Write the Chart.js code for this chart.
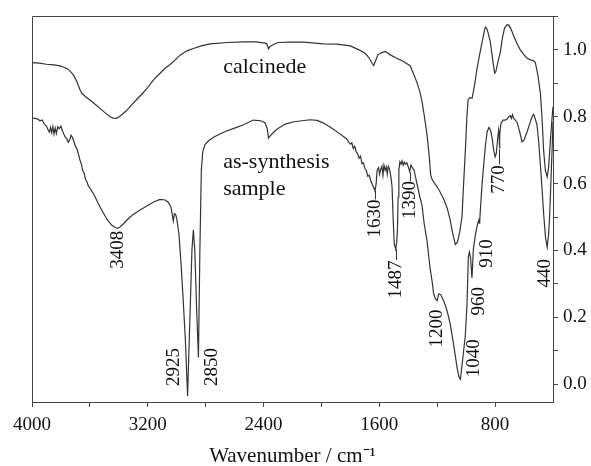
<!DOCTYPE html>
<html>
<head>
<meta charset="utf-8">
<script src="https://cdn.jsdelivr.net/npm/chart.js@4.4.0/dist/chart.umd.min.js"></script>
<style>
  html, body { margin: 0; padding: 0; background: #ffffff; }
  #wrap { width: 591px; height: 466px; }
</style>
</head>
<body>
<div id="wrap"><canvas id="ir" width="591" height="466"></canvas></div>
<script>
// FT-IR spectra: calcined material (upper trace) and as-synthesised sample (lower trace)

const calcinedWavenumber = [
  4000, 3950, 3900, 3850, 3806, 3780, 3760, 3740, 3714, 3690, 3670, 3656, 3630, 3599, 3560, 3530,
  3490, 3460, 3440, 3420, 3400, 3380, 3350, 3322, 3280, 3240, 3207, 3160, 3115, 3080, 3046, 3010,
  2977, 2930, 2885, 2830, 2769, 2650, 2539, 2450, 2390, 2377, 2366, 2355, 2342, 2300, 2216, 2124,
  1986, 1893, 1801, 1755, 1709, 1686, 1665, 1650, 1639, 1628, 1610, 1587, 1559, 1524, 1480, 1432,
  1386, 1363, 1340, 1320, 1305, 1290, 1270, 1255, 1245, 1235, 1220, 1200, 1180, 1156, 1130, 1110,
  1095, 1075, 1060, 1045, 1029, 1018, 1006, 995, 987, 975, 959, 940, 925, 905, 890, 875,
  867, 858, 848, 833, 815, 803, 795, 780, 764, 750, 735, 717, 705, 690, 672, 650,
  626, 600, 579, 555, 535, 522, 505, 487, 475, 465, 453, 440, 430, 418, 406, 400
];
const calcinedValue = [
  0.962, 0.960, 0.957, 0.955, 0.952, 0.948, 0.944, 0.938, 0.925, 0.905, 0.882, 0.870, 0.860, 0.850, 0.836, 0.825,
  0.810, 0.800, 0.796, 0.795, 0.799, 0.806, 0.817, 0.830, 0.850, 0.868, 0.884, 0.910, 0.930, 0.945, 0.956, 0.970,
  0.984, 0.997, 1.004, 1.012, 1.018, 1.022, 1.024, 1.024, 1.020, 1.018, 1.003, 1.010, 1.014, 1.022, 1.023, 1.023,
  1.018, 1.017, 1.012, 1.003, 0.993, 0.984, 0.972, 0.960, 0.953, 0.965, 0.985, 0.991, 0.995, 0.985, 0.975, 0.965,
  0.952, 0.928, 0.902, 0.875, 0.845, 0.805, 0.745, 0.680, 0.625, 0.612, 0.602, 0.590, 0.575, 0.555, 0.525, 0.490,
  0.455, 0.418, 0.425, 0.455, 0.500, 0.597, 0.696, 0.800, 0.850, 0.857, 0.855, 0.900, 0.944, 0.990, 1.023, 1.055,
  1.068, 1.064, 1.050, 1.023, 0.965, 0.930, 0.935, 0.965, 0.993, 1.035, 1.065, 1.075, 1.074, 1.062, 1.042, 1.020,
  1.000, 0.985, 0.975, 0.970, 0.967, 0.962, 0.925, 0.870, 0.790, 0.700, 0.640, 0.620, 0.650, 0.730, 0.800, 0.830
];

const synthWavenumber = [
  4000, 3980, 3960, 3945, 3930, 3915, 3900, 3890, 3880, 3872, 3864, 3856, 3848, 3840, 3832, 3822,
  3812, 3800, 3790, 3780, 3770, 3760, 3750, 3740, 3730, 3720, 3710, 3700, 3690, 3680, 3670, 3660,
  3650, 3640, 3630, 3620, 3610, 3600, 3585, 3570, 3553, 3530, 3504, 3480, 3450, 3430, 3408, 3390,
  3368, 3330, 3300, 3250, 3207, 3160, 3115, 3080, 3060, 3040, 3030, 3024, 3016, 3008, 3000, 2985,
  2970, 2955, 2940, 2925, 2910, 2895, 2885, 2875, 2862, 2850, 2840, 2830, 2820, 2805, 2780, 2740,
  2665, 2600, 2539, 2470, 2420, 2390, 2375, 2366, 2355, 2342, 2320, 2300, 2250, 2190, 2078, 2030,
  1986, 1930, 1870, 1830, 1800, 1790, 1780, 1770, 1760, 1750, 1740, 1730, 1720, 1710, 1700, 1690,
  1680, 1670, 1660, 1650, 1640, 1630, 1622, 1615, 1605, 1598, 1590, 1582, 1575, 1568, 1560, 1552,
  1545, 1538, 1530, 1520, 1512, 1505, 1497, 1487, 1480, 1475, 1470, 1465, 1458, 1450, 1443, 1435,
  1428, 1420, 1410, 1400, 1390, 1382, 1375, 1360, 1340, 1320, 1305, 1290, 1271, 1250, 1236, 1225,
  1213, 1200, 1190, 1175, 1156, 1132, 1110, 1087, 1063, 1050, 1040, 1029, 1015, 1006, 994, 985,
  978, 970, 960, 950, 935, 920, 913, 910, 906, 902, 890, 879, 867, 855, 842, 830,
  820, 810, 800, 792, 782, 776, 772, 770, 767, 760, 745, 730, 717, 705, 695, 688,
  680, 672, 660, 648, 630, 614, 600, 579, 560, 545, 533, 520, 510, 498, 487, 475,
  464, 452, 440, 430, 423, 415, 406, 400
];
const synthValue = [
  0.797, 0.795, 0.793, 0.788, 0.790, 0.778, 0.772, 0.762, 0.754, 0.768, 0.752, 0.770, 0.748, 0.766, 0.750, 0.770,
  0.764, 0.772, 0.758, 0.748, 0.738, 0.735, 0.724, 0.730, 0.745, 0.738, 0.725, 0.712, 0.704, 0.690, 0.672, 0.660,
  0.640, 0.632, 0.612, 0.605, 0.592, 0.587, 0.576, 0.566, 0.550, 0.530, 0.510, 0.492, 0.476, 0.470, 0.466, 0.471,
  0.480, 0.497, 0.508, 0.522, 0.533, 0.545, 0.553, 0.551, 0.545, 0.530, 0.505, 0.488, 0.510, 0.508, 0.496, 0.450,
  0.360, 0.250, 0.130, -0.035, 0.180, 0.400, 0.462, 0.400, 0.220, 0.080, 0.400, 0.640, 0.695, 0.717, 0.728, 0.740,
  0.756, 0.766, 0.776, 0.790, 0.788, 0.782, 0.765, 0.736, 0.742, 0.748, 0.758, 0.765, 0.778, 0.785, 0.791, 0.789,
  0.781, 0.766, 0.748, 0.735, 0.718, 0.722, 0.705, 0.712, 0.695, 0.690, 0.676, 0.682, 0.660, 0.662, 0.645, 0.640,
  0.622, 0.625, 0.610, 0.598, 0.590, 0.578, 0.600, 0.640, 0.648, 0.628, 0.643, 0.652, 0.625, 0.655, 0.640, 0.650,
  0.628, 0.652, 0.645, 0.620, 0.590, 0.500, 0.420, 0.405, 0.425, 0.460, 0.560, 0.640, 0.665, 0.658, 0.668, 0.655,
  0.664, 0.658, 0.662, 0.650, 0.636, 0.655, 0.650, 0.640, 0.600, 0.560, 0.535, 0.480, 0.430, 0.350, 0.310, 0.272,
  0.255, 0.250, 0.270, 0.268, 0.250, 0.220, 0.180, 0.120, 0.050, 0.022, 0.015, 0.055, 0.110, 0.145, 0.240, 0.380,
  0.395, 0.380, 0.318, 0.405, 0.450, 0.482, 0.490, 0.482, 0.492, 0.520, 0.600, 0.655, 0.714, 0.755, 0.768, 0.758,
  0.734, 0.700, 0.680, 0.690, 0.735, 0.760, 0.745, 0.705, 0.745, 0.780, 0.790, 0.790, 0.793, 0.800, 0.803, 0.795,
  0.806, 0.795, 0.790, 0.783, 0.755, 0.725, 0.730, 0.755, 0.780, 0.800, 0.807, 0.790, 0.774, 0.720, 0.655, 0.580,
  0.506, 0.440, 0.410, 0.450, 0.506, 0.600, 0.704, 0.785
];

// axis ticks
const xTickValues = [4000, 3600, 3200, 2800, 2400, 2000, 1600, 1200, 800];
const xTickLabels = [4000, 3200, 2400, 1600, 800];
const yTickValues = [0, 0.1, 0.2, 0.3, 0.4, 0.5, 0.6, 0.7, 0.8, 0.9, 1.0, 1.1];
const yTickLabels = [0, 0.2, 0.4, 0.6, 0.8, 1.0];

// band assignments written beside the lower trace
const bandLabels = ['3408', '2925', '2850', '1630', '1487', '1390', '1200', '1040', '960', '910', '770', '440'];

const SERIF = "'Liberation Serif', 'Times New Roman', Times, serif";
const INK = '#111111';

// where each band label sits (centre of the vertical text, in wavenumber / value units)
const bandLabelAt = [
  [3404, 0.402], [3019, 0.052], [2754, 0.052], [1630, 0.496], [1487, 0.313], [1390, 0.551],
  [1204, 0.167], [944, 0.078], [911, 0.248], [858, 0.391], [770, 0.612], [455, 0.332]
];
// short leader strokes from a band to its label: [wavenumber, from, to]
const leaderLines = [
  [1630, 0.578, 0.553], [1487, 0.405, 0.372], [1390, 0.634, 0.607], [770, 0.703, 0.657]
];
// trace names: [text, wavenumber of left edge, value of text middle]
const traceNames = [
  ['calcinede', 2679, 0.949],
  ['as-synthesis', 2679, 0.664],
  ['sample', 2679, 0.583]
];

function toPoints(xs, ys) {
  return xs.map((x, i) => ({ x: x, y: ys[i] }));
}

const annotate = {
  id: 'annotate',
  afterDatasetsDraw(chart) {
    const ctx = chart.ctx;
    const xs = chart.scales.x, ys = chart.scales.y;
    const a = chart.chartArea;
    ctx.save();
    // frame on the two sides that carry no axis
    ctx.strokeStyle = '#444';
    ctx.lineWidth = 1;
    ctx.beginPath();
    ctx.moveTo(Math.round(a.left) + 0.5, Math.round(a.bottom) + 0.5);
    ctx.lineTo(Math.round(a.left) + 0.5, Math.round(a.top) + 0.5);
    ctx.lineTo(Math.round(a.right) + 0.5, Math.round(a.top) + 0.5);
    ctx.stroke();

    ctx.fillStyle = INK;
    ctx.strokeStyle = '#333';
    // band labels, rotated to read upwards
    ctx.font = '19px ' + SERIF;
    bandLabels.forEach((t, i) => {
      const px = xs.getPixelForValue(bandLabelAt[i][0]);
      const py = ys.getPixelForValue(bandLabelAt[i][1]);
      ctx.save();
      ctx.translate(px, py);
      ctx.rotate(-Math.PI / 2);
      ctx.textAlign = 'center';
      ctx.textBaseline = 'middle';
      ctx.fillText(t, 0, 0);
      ctx.restore();
    });
    leaderLines.forEach(l => {
      const px = Math.round(xs.getPixelForValue(l[0])) + 0.5;
      ctx.beginPath();
      ctx.moveTo(px, ys.getPixelForValue(l[1]));
      ctx.lineTo(px, ys.getPixelForValue(l[2]));
      ctx.stroke();
    });
    // trace names
    ctx.font = '22px ' + SERIF;
    ctx.textAlign = 'left';
    ctx.textBaseline = 'middle';
    traceNames.forEach(n => {
      ctx.fillText(n[0], xs.getPixelForValue(n[1]), ys.getPixelForValue(n[2]));
    });
    ctx.restore();
  }
};

new Chart(document.getElementById('ir'), {
  type: 'line',
  data: {
    datasets: [
      {
        label: 'calcinede',
        data: toPoints(calcinedWavenumber, calcinedValue),
        borderColor: '#333333',
        borderWidth: 1.2,
        pointRadius: 0,
        tension: 0,
        fill: false
      },
      {
        label: 'as-synthesis sample',
        data: toPoints(synthWavenumber, synthValue),
        borderColor: '#333333',
        borderWidth: 1.2,
        pointRadius: 0,
        tension: 0,
        fill: false
      }
    ]
  },
  options: {
    responsive: false,
    animation: false,
    devicePixelRatio: 1,
    layout: { padding: { left: 32, top: 14, right: 0, bottom: 0 } },
    plugins: { legend: { display: false }, tooltip: { enabled: false } },
    scales: {
      x: {
        type: 'linear',
        min: 400,
        max: 4000,
        reverse: true,
        afterBuildTicks: s => { s.ticks = xTickValues.map(v => ({ value: v })); },
        afterFit: s => { s.height = 64; },
        ticks: {
          autoSkip: false,
          maxRotation: 0,
          padding: 7,
          color: INK,
          font: { family: SERIF, size: 19 },
          callback: v => (xTickLabels.includes(v) ? String(v) : '')
        },
        grid: { drawOnChartArea: false, tickLength: 5, color: '#444', lineWidth: 1 },
        border: { color: '#444', width: 1 },
        title: {
          display: true,
          text: 'Wavenumber / cm\u207B\u00B9',
          color: INK,
          font: { family: SERIF, size: 21, lineHeight: 1 },
          padding: { top: 0, bottom: -1 }
        }
      },
      y: {
        type: 'linear',
        position: 'right',
        min: -0.053,
        max: 1.1,
        afterBuildTicks: s => { s.ticks = yTickValues.map(v => ({ value: v })); },
        afterFit: s => { s.width = 38; },
        ticks: {
          padding: 5,
          color: INK,
          font: { family: SERIF, size: 19 },
          callback: v => (yTickLabels.some(t => Math.abs(t - v) < 1e-6) ? v.toFixed(1) : '')
        },
        grid: { drawOnChartArea: false, tickLength: 5, color: '#444', lineWidth: 1 },
        border: { color: '#444', width: 1 }
      }
    }
  },
  plugins: [annotate]
});
</script>
</body>
</html>
